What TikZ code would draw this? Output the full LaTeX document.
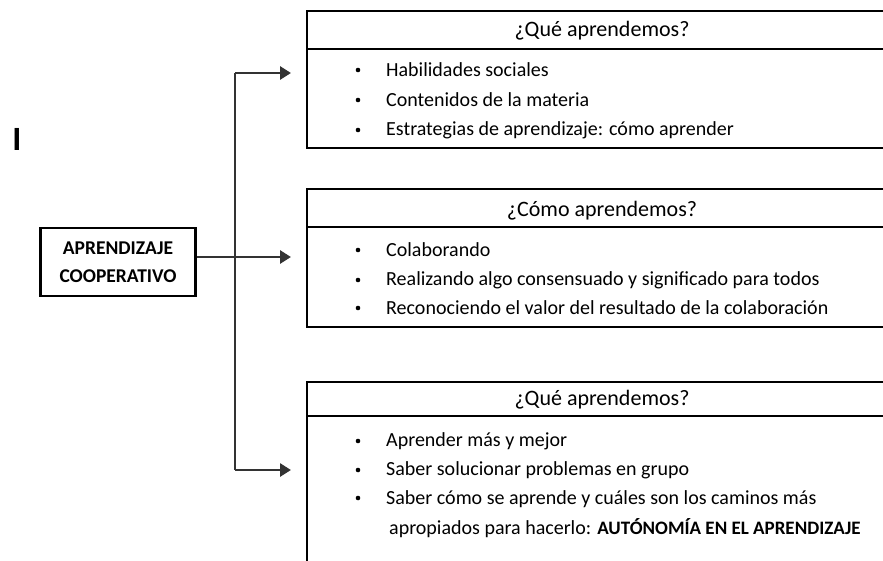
\documentclass[tikz,border=0pt]{standalone}
\usepackage{fontspec}
\setmainfont{Carlito}
\usetikzlibrary{positioning,arrows.meta}

\tikzset{
  panel/.style={line width=2.6pt},
  item/.style={anchor=west, inner sep=0pt},
  head/.style={inner sep=0pt, font=\fontsize{22}{29}\selectfont},
  conn/.style={line width=2.8pt, draw=black!80},
  tip/.style={-{Triangle[length=11pt,width=13pt]}}
}

\begin{document}
\begin{tikzpicture}[x=1pt, y=-1pt, every node/.style={font=\fontsize{20}{30}\selectfont}]

  \useasboundingbox (0,0) rectangle (883,560);
  \clip (0,0) rectangle (883,560);

  \node[font=\fontsize{34}{34}\bfseries\selectfont, inner sep=0pt] (mark) at (17,139) {I};

  % main box
  \node[draw, line width=2.6pt, minimum width=155pt, minimum height=68pt, align=center,
        font=\fontsize{19.5}{28}\bfseries\selectfont] (ac) at (118,262) {APRENDIZAJE\\COOPERATIVO};

  % first panel
  \draw[panel] (307,11) rectangle (900,148);
  \draw[panel] (307,49) -- (900,49);
  \node[head] (h1) at (602,31) {¿Qué aprendemos?};
  \fill (358,70) circle (2.3pt);
  \node[item] (a1) at (386,70) {Habilidades sociales};
  \fill (358,100) circle (2.3pt);
  \node[item] (a2) at (386,100) {Contenidos de la materia};
  \fill (358,130) circle (2.3pt);
  \node[item] (a3) at (386,130) {Estrategias de aprendizaje: cómo aprender};

  % second panel
  \draw[panel] (307,189) rectangle (900,327);
  \draw[panel] (307,227) -- (900,227);
  \node[head] (h2) at (602,211) {¿Cómo aprendemos?};
  \fill (358,250) circle (2.3pt);
  \node[item] (b1) at (386,250) {Colaborando};
  \fill (358,280) circle (2.3pt);
  \node[item] (b2) at (386,280) {Realizando algo consensuado y significado para todos};
  \fill (358,308) circle (2.3pt);
  \node[item] (b3) at (386,308) {Reconociendo el valor del resultado de la colaboración};

  % third panel
  \draw[panel] (307,382) rectangle (900,590);
  \draw[panel] (307,416) -- (900,416);
  \node[head] (h3) at (602,400) {¿Qué aprendemos?};
  \fill (358,441) circle (2.3pt);
  \node[item] (c1) at (386,441) {Aprender más y mejor};
  \fill (358,470) circle (2.3pt);
  \node[item] (c2) at (386,470) {Saber solucionar problemas en grupo};
  \fill (358,498) circle (2.3pt);
  \node[item, anchor=north west, align=left] (c3) at (386,490)
    {Saber cómo se aprende y cuáles son los caminos más\\
     \hspace{3pt}apropiados para hacerlo: {\fontsize{19}{30}\bfseries\selectfont AUTÓNOMÍA EN EL APRENDIZAJE}};

  % connectors
  \coordinate (top) at (235,73);
  \coordinate (mid) at (235,257);
  \coordinate (bot) at (235,470);
  \coordinate (e1) at (291,73);
  \coordinate (e2) at (291,257);
  \coordinate (e3) at (291,470);
  \draw[conn] (top) -- (bot);
  \draw[conn] (ac.east |- mid) -- (mid);
  \draw[conn, tip] (top) -- (e1);
  \draw[conn, tip] (mid) -- (e2);
  \draw[conn, tip] (bot) -- (e3);

\end{tikzpicture}
\end{document}
